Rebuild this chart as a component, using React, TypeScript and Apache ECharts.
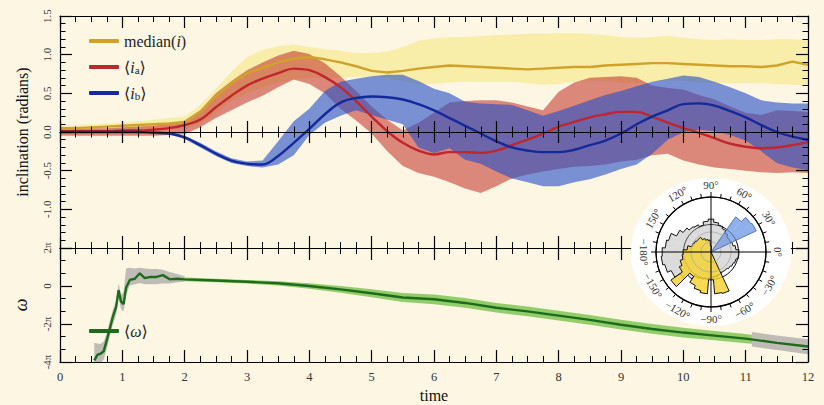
import React, { useEffect, useRef } from "react";
import * as echarts from "echarts";

const FONT = '"Liberation Serif", "DejaVu Serif", serif';

// ---------- top panel: inclination ----------
const T = [0, 0.25, 0.5, 0.75, 1, 1.25, 1.5, 1.75, 2, 2.25, 2.5, 2.75, 3, 3.25, 3.5, 3.75, 4, 4.25, 4.5, 4.75, 5, 5.25, 5.5, 5.75, 6, 6.25, 6.5, 6.75, 7, 7.25, 7.5, 7.75, 8, 8.25, 8.5, 8.75, 9, 9.25, 9.5, 9.75, 10, 10.25, 10.5, 10.75, 11, 11.25, 11.5, 11.75, 12];

const medianI = [0.05, 0.05, 0.06, 0.07, 0.08, 0.09, 0.10, 0.11, 0.13, 0.26, 0.46, 0.63, 0.76, 0.83, 0.90, 0.95, 0.97, 0.94, 0.90, 0.85, 0.79, 0.77, 0.79, 0.82, 0.84, 0.86, 0.85, 0.84, 0.83, 0.82, 0.81, 0.82, 0.83, 0.84, 0.84, 0.86, 0.87, 0.88, 0.89, 0.89, 0.88, 0.87, 0.86, 0.85, 0.85, 0.84, 0.86, 0.91, 0.87];
const medianHi = [0.08, 0.09, 0.10, 0.11, 0.12, 0.14, 0.16, 0.18, 0.20, 0.35, 0.56, 0.78, 0.97, 1.06, 1.11, 1.13, 1.10, 1.07, 1.05, 1.02, 1.02, 1.04, 1.10, 1.18, 1.21, 1.23, 1.23, 1.24, 1.25, 1.26, 1.27, 1.27, 1.28, 1.28, 1.27, 1.25, 1.23, 1.22, 1.23, 1.24, 1.22, 1.20, 1.19, 1.20, 1.19, 1.19, 1.20, 1.20, 1.19];
const medianLo = [0.00, 0.00, 0.01, 0.01, 0.02, 0.02, 0.03, 0.03, 0.04, 0.10, 0.25, 0.40, 0.50, 0.58, 0.64, 0.68, 0.70, 0.70, 0.70, 0.71, 0.72, 0.70, 0.66, 0.62, 0.62, 0.64, 0.65, 0.65, 0.65, 0.65, 0.63, 0.61, 0.62, 0.65, 0.67, 0.66, 0.64, 0.63, 0.65, 0.67, 0.66, 0.64, 0.63, 0.63, 0.63, 0.63, 0.62, 0.61, 0.61];

const iaMean = [0.01, 0.01, 0.01, 0.01, 0.02, 0.02, 0.03, 0.05, 0.09, 0.16, 0.32, 0.47, 0.60, 0.69, 0.76, 0.82, 0.80, 0.71, 0.58, 0.40, 0.20, 0.01, -0.14, -0.24, -0.29, -0.26, -0.26, -0.27, -0.24, -0.17, -0.10, -0.02, 0.07, 0.13, 0.19, 0.23, 0.26, 0.26, 0.20, 0.12, 0.05, -0.01, -0.08, -0.15, -0.19, -0.21, -0.20, -0.17, -0.13];
const iaHi = [0.04, 0.04, 0.05, 0.05, 0.06, 0.07, 0.08, 0.11, 0.15, 0.28, 0.50, 0.66, 0.80, 0.90, 0.99, 1.05, 1.01, 0.89, 0.72, 0.53, 0.33, 0.16, 0.02, 0.12, 0.25, 0.38, 0.40, 0.41, 0.41, 0.38, 0.33, 0.28, 0.52, 0.64, 0.70, 0.71, 0.72, 0.70, 0.60, 0.57, 0.55, 0.48, 0.42, 0.33, 0.25, 0.22, 0.28, 0.27, 0.26];
const iaLo = [-0.05, -0.05, -0.05, -0.05, -0.05, -0.05, -0.05, -0.04, -0.03, 0.06, 0.18, 0.28, 0.38, 0.47, 0.58, 0.68, 0.62, 0.50, 0.30, 0.15, -0.02, -0.25, -0.44, -0.53, -0.58, -0.65, -0.73, -0.79, -0.70, -0.60, -0.55, -0.51, -0.48, -0.45, -0.44, -0.42, -0.38, -0.36, -0.30, -0.28, -0.37, -0.42, -0.46, -0.48, -0.50, -0.52, -0.53, -0.52, -0.53];

const ibMean = [0, 0, 0, 0, 0, 0, -0.01, -0.02, -0.07, -0.17, -0.28, -0.37, -0.41, -0.42, -0.31, -0.14, 0.04, 0.23, 0.38, 0.44, 0.46, 0.45, 0.42, 0.36, 0.28, 0.18, 0.08, -0.02, -0.12, -0.20, -0.24, -0.26, -0.26, -0.23, -0.17, -0.11, -0.02, 0.10, 0.20, 0.28, 0.36, 0.37, 0.34, 0.27, 0.19, 0.09, 0.00, -0.06, -0.10];
const ibHi = [0.01, 0.01, 0.01, 0.01, 0.01, 0.01, 0.01, 0.0, -0.05, -0.14, -0.25, -0.34, -0.38, -0.37, -0.12, 0.14, 0.30, 0.53, 0.65, 0.69, 0.72, 0.74, 0.74, 0.66, 0.56, 0.50, 0.39, 0.37, 0.36, 0.35, 0.28, 0.21, 0.27, 0.34, 0.41, 0.48, 0.53, 0.59, 0.65, 0.69, 0.73, 0.71, 0.65, 0.58, 0.50, 0.41, 0.38, 0.37, 0.37];
const ibLo = [-0.01, -0.01, -0.01, -0.01, -0.01, -0.01, -0.02, -0.03, -0.09, -0.20, -0.31, -0.40, -0.44, -0.46, -0.42, -0.30, -0.04, 0.12, 0.21, 0.28, 0.22, 0.16, 0.10, -0.20, -0.27, -0.21, -0.36, -0.41, -0.51, -0.60, -0.65, -0.70, -0.70, -0.65, -0.61, -0.55, -0.48, -0.42, -0.28, -0.10, 0.00, 0.03, 0.01, -0.04, -0.11, -0.25, -0.40, -0.46, -0.49];

// ---------- bottom panel: omega (radians) ----------
const omegaT = [0.55, 0.6, 0.65, 0.7, 0.75, 0.8, 0.85, 0.9, 0.94, 0.98, 1.02, 1.06, 1.12, 1.2, 1.28, 1.36, 1.45, 1.55, 1.65, 1.76, 1.88, 2.0, 2.5, 3.0, 3.5, 4.0, 4.5, 5.0, 5.5, 6.0, 6.5, 7.0, 7.5, 8.0, 8.5, 9.0, 9.5, 10.0, 10.5, 11.0, 11.5, 12.0];
const omegaMean = [-12.3, -11.4, -11.2, -10.8, -9.0, -7.0, -5.0, -3.5, -0.7, -2.6, -3.0, -0.3, 1.0, 1.2, 2.1, 1.3, 1.5, 1.5, 1.8, 1.1, 1.2, 1.1, 0.9, 0.7, 0.45, 0.0, -0.55, -1.2, -1.9, -2.2, -2.8, -3.6, -4.2, -4.9, -5.6, -6.4, -7.1, -7.7, -8.2, -8.7, -9.4, -10.0];

const omegaGrayEarlyT = [0.55, 0.6, 0.65, 0.7, 0.75, 0.8, 0.85, 0.9, 0.94, 0.98, 1.02, 1.06, 1.12, 1.2, 1.28, 1.36, 1.45, 1.55, 1.65, 1.76, 1.88, 2.0];
const omegaGrayEarlyLo = [-12.8, -12.8, -12.8, -12.2, -10.4, -8.3, -6.3, -4.8, -2.0, -3.8, -4.2, -1.5, 0.1, 0.3, 0.5, 0.3, 0.3, 0.3, 0.4, 0.4, 0.6, 0.7];
const omegaGrayEarlyHi = [-9.4, -9.5, -9.6, -9.2, -7.8, -5.8, -3.9, -2.4, 0.4, -1.5, -1.0, 2.9, 3.0, 2.9, 3.0, 2.9, 2.8, 2.8, 2.7, 2.3, 2.0, 1.6];

const omegaGreenT = [2.0, 2.5, 3.0, 3.5, 4.0, 4.5, 5.0, 5.5, 6.0, 6.5, 7.0, 7.5, 8.0, 8.5, 9.0, 9.5, 10.0, 10.5, 11.0, 11.1];
const omegaGreenLo = [0.8, 0.6, 0.4, 0.1, -0.45, -1.1, -1.85, -2.65, -3.0, -3.6, -4.4, -5.0, -5.7, -6.4, -7.2, -7.9, -8.5, -8.95, -9.45, -9.55];
const omegaGreenHi = [1.4, 1.2, 1.0, 0.8, 0.45, 0.0, -0.55, -1.15, -1.4, -2.0, -2.8, -3.4, -4.1, -4.8, -5.6, -6.3, -6.9, -7.45, -7.95, -8.05];

const omegaGrayLateT = [11.1, 11.5, 12.0];
const omegaGrayLateLo = [-10.0, -10.6, -11.3];
const omegaGrayLateHi = [-7.6, -8.2, -8.8];

// ---------- polar inset: histogram radii per 10° bin ----------
const polarBins = [-180, -170, -160, -150, -140, -130, -120, -110, -100, -90, -80, -70, -60, -50, -40, -30, -20, -10, 0, 10, 20, 30, 40, 50, 60, 70, 80, 90, 100, 110, 120, 130, 140, 150, 160, 170];
const grayHist = [49, 50, 48, 44, 38, 33, 29, 28, 27, 26, 25, 24, 23, 23, 24, 25, 26, 28, 28, 25, 23, 22, 22, 24, 26, 28, 30, 33, 31, 28, 30, 31, 34, 38, 44, 46];
const yellowHist = [28, 29, 32, 35, 49, 30, 37, 40, 42, 28, 42, 43, 0, 0, 0, 0, 0, 0, 0, 0, 0, 0, 0, 0, 0, 0, 0, 6, 12, 13, 15, 18, 18, 19, 20, 24];
const blueHist = [0, 0, 0, 0, 0, 0, 0, 0, 0, 0, 0, 0, 0, 0, 0, 0, 0, 0, 0, 0, 0, 50, 49, 43, 0, 0, 0, 0, 0, 0, 0, 0, 0, 0, 0, 0];
const angleLabels = [-180, -150, -120, -90, -60, -30, 0, 30, 60, 90, 120, 150];

const POLAR_CENTER = [711, 252];
const POLAR_R = 55;
const LABEL_R = 67;
const BIN_W = 10;

function bandSeries(key: string, xs: number[], lo: number[], hi: number[], color: string, xAxisIndex: number, yAxisIndex: number) {
  return {
    type: "custom", name: key, xAxisIndex, yAxisIndex, silent: true, clip: true, z: 2,
    data: xs.map((x, i) => [x, lo[i], hi[i]]),
    encode: { x: 0, y: [1, 2] },
    renderItem: (params: any, api: any) => {
      if (params.dataIndex !== 0) return null;
      const up = xs.map((x, i) => api.coord([x, hi[i]]));
      const dn = xs.map((x, i) => api.coord([x, lo[i]])).reverse();
      return { type: "polygon", shape: { points: up.concat(dn) }, style: { fill: color } };
    },
  };
}

function lineSeries(name: string, xs: number[], ys: number[], color: string, xAxisIndex: number, yAxisIndex: number, smooth: boolean | number) {
  return {
    type: "line", name, data: xs.map((x, i) => [x, ys[i]]), symbol: "none", smooth,
    lineStyle: { color, width: 2.4 }, itemStyle: { color }, xAxisIndex, yAxisIndex,
    silent: true, emphasis: { disabled: true }, z: 2,
  };
}

function outline(radii: number[]) {
  const pts: number[][] = [];
  polarBins.forEach((c, i) => {
    pts.push([radii[i], c - BIN_W / 2]);
    pts.push([radii[i], c + BIN_W / 2]);
  });
  pts.push(pts[0]);
  return pts;
}

function xAx(gridIndex: number, position: string, onZero: boolean, inside: boolean, len: number, minorLen: number, labels: boolean) {
  const ax: any = {
    type: "value", gridIndex, position, min: 0, max: 12, interval: 1, z: 3,
    axisLine: { show: true, onZero, lineStyle: { color: "#000", width: 1.2 } },
    axisTick: { show: true, inside, length: len, lineStyle: { color: "#000", width: 1.2 } },
    minorTick: { show: true, splitNumber: 4, length: minorLen, lineStyle: { color: "#000", width: 1 } },
    splitLine: { show: false },
    axisLabel: { show: labels, fontSize: 12.5, fontFamily: FONT, color: "#333", margin: 8 },
  };
  if (onZero) ax.axisLine.onZeroAxisIndex = 0;
  return ax;
}

function yAx(gridIndex: number, position: string, min: number, max: number, interval: number, minorSplit: number, labels: boolean, formatter?: (v: number) => string) {
  return {
    type: "value", gridIndex, position, min, max, interval, z: 3,
    axisLine: { show: true, onZero: false, lineStyle: { color: "#000", width: 1.2 } },
    axisTick: { show: true, inside: true, length: 12, lineStyle: { color: "#000", width: 1.2 } },
    minorTick: { show: true, splitNumber: minorSplit, length: 5.5, lineStyle: { color: "#000", width: 1 } },
    splitLine: { show: false },
    axisLabel: { show: labels, rotate: 90, margin: 8, fontSize: 11, fontFamily: FONT, color: "#333", formatter },
  } as any;
}

const legendRich = {
  it: { fontStyle: "italic", fontFamily: FONT, fontSize: 16, color: "#222" },
  sub: { fontFamily: FONT, fontSize: 11, color: "#222", verticalAlign: "bottom" },
};

export default function App() {
  const ref = useRef<HTMLDivElement>(null);
  useEffect(() => {
    if (!ref.current) return;
    const chart = echarts.init(ref.current, null, { renderer: "svg" });

    const yTop = yAx(0, "left", -1.5, 1.5, 0.5, 5, true, (v: number) => (v === -1.5 ? "" : v.toFixed(1)));
    yTop.name = "inclination (radians)";
    yTop.nameLocation = "middle";
    yTop.nameRotate = 90;
    yTop.nameGap = 30;
    yTop.nameTextStyle = { fontSize: 16, fontFamily: FONT, color: "#111" };

    const yBot = yAx(1, "left", -4 * Math.PI, 2 * Math.PI, 2 * Math.PI, 3, true, (v: number) => {
      const k = Math.round(v / Math.PI);
      return k === 0 ? "0" : `${k}π`;
    });
    yBot.name = "ω";
    yBot.nameLocation = "middle";
    yBot.nameRotate = 90;
    yBot.nameGap = 30;
    yBot.nameTextStyle = { fontSize: 18, fontStyle: "italic", fontFamily: FONT, color: "#111" };

    const xTime = xAx(1, "bottom", false, true, 12, 6, true);
    xTime.name = "time";
    xTime.nameLocation = "middle";
    xTime.nameGap = 25;
    xTime.nameTextStyle = { fontSize: 16, fontFamily: FONT, color: "#111" };

    const series: any[] = [
      bandSeries("med", T, medianLo, medianHi, "rgba(240,225,80,0.38)", 1, 0),
      lineSeries("median", T, medianI, "#d1a22a", 1, 0, false),
      bandSeries("iaBand", T, iaLo, iaHi, "rgba(195,55,45,0.58)", 1, 0),
      lineSeries("ia", T, iaMean, "#c0262d", 1, 0, 0.4),
      bandSeries("ibBand", T, ibLo, ibHi, "rgba(40,80,200,0.62)", 1, 0),
      lineSeries("ib", T, ibMean, "#14299a", 1, 0, 0.4),
      bandSeries("omg1", omegaGrayEarlyT, omegaGrayEarlyLo, omegaGrayEarlyHi, "rgba(150,150,150,0.6)", 5, 2),
      bandSeries("omgG", omegaGreenT, omegaGreenLo, omegaGreenHi, "rgba(120,195,75,0.8)", 5, 2),
      bandSeries("omg2", omegaGrayLateT, omegaGrayLateLo, omegaGrayLateHi, "rgba(150,150,150,0.6)", 5, 2),
      lineSeries("omega", omegaT, omegaMean, "#1d6b1d", 5, 2, false),
    ];

    const polarBar = (data: number[], color: string, z: number) => ({
      type: "bar", coordinateSystem: "polar", polarIndex: 0, data,
      barCategoryGap: "0%", barGap: "-100%", itemStyle: { color }, silent: true, z,
      emphasis: { disabled: true },
    });
    const polarLine = (data: number[][], color: string, width: number, z: number) => ({
      type: "line", coordinateSystem: "polar", polarIndex: 1, data, symbol: "none",
      lineStyle: { color, width }, silent: true, z, emphasis: { disabled: true }, clip: false,
    });

    series.push(polarBar(grayHist, "rgba(170,170,170,0.42)", 6));
    const grayOutlineIndex = series.length;
    series.push(polarLine(outline(grayHist), "#111", 1, 7));
    series.push(polarBar(yellowHist, "rgba(245,210,40,0.82)", 8));
    series.push(polarLine(outline(yellowHist), "#111", 1, 9));
    series.push(polarBar(blueHist, "rgba(100,145,225,0.72)", 10));
    series.push(polarLine(outline(blueHist), "#3d5fa8", 0.8, 10));

    const option: any = {
      backgroundColor: "#fdf6e3",
      animation: false,
      textStyle: { fontFamily: FONT },
      grid: [
        { left: 60, top: 16, width: 748, height: 232 },
        { left: 60, top: 248, width: 748, height: 114 },
      ],
      xAxis: [
        xAx(0, "top", false, true, 12, 6, false),
        xAx(0, "bottom", false, true, 12, 6, false),
        xAx(0, "bottom", true, true, 11, 5.5, false),
        xAx(0, "bottom", true, false, 11, 5.5, false),
        xAx(1, "top", false, true, 12, 6, false),
        xTime,
      ],
      yAxis: [
        yTop,
        yAx(0, "right", -1.5, 1.5, 0.5, 5, false),
        yBot,
        yAx(1, "right", -4 * Math.PI, 2 * Math.PI, 2 * Math.PI, 3, false),
      ],
      polar: [
        { center: POLAR_CENTER, radius: POLAR_R },
        { center: POLAR_CENTER, radius: POLAR_R },
      ],
      angleAxis: [
        {
          polarIndex: 0, type: "category", data: polarBins.map(String), startAngle: 180 - BIN_W / 2, clockwise: false,
          axisLine: { show: false }, axisTick: { show: false }, axisLabel: { show: false }, splitLine: { show: false }, z: 11,
        },
        {
          polarIndex: 1, type: "value", min: -180, max: 180, interval: 90, startAngle: 180, clockwise: false,
          axisLine: { show: true, lineStyle: { color: "#000", width: 1.2 } },
          axisTick: { show: true, length: 5, lineStyle: { color: "#000", width: 1 } },
          minorTick: { show: true, splitNumber: 9, length: 4, lineStyle: { color: "#000", width: 1 } },
          splitLine: { show: true, lineStyle: { color: "#000", width: 1 } },
          axisLabel: { show: false }, z: 11,
        },
      ],
      radiusAxis: [
        {
          polarIndex: 0, type: "value", min: 0, max: POLAR_R, interval: 10,
          axisLine: { show: false }, axisTick: { show: false }, axisLabel: { show: false },
          splitLine: { show: true, lineStyle: { color: ["rgba(0,0,0,0)", "#a8a8a8", "#a8a8a8", "rgba(0,0,0,0)", "rgba(0,0,0,0)", "rgba(0,0,0,0)", "rgba(0,0,0,0)"], width: 0.8 } },
          z: 11,
        },
        {
          polarIndex: 1, type: "value", min: 0, max: POLAR_R, interval: POLAR_R / 2,
          axisLine: { show: false }, axisTick: { show: false }, axisLabel: { show: false },
          splitLine: { show: true, lineStyle: { color: "#000", width: 1 } },
          z: 5,
        },
      ],
      legend: [
        {
          data: ["median", "ia", "ib"], orient: "vertical", left: 84, top: 28, itemWidth: 30, itemHeight: 4,
          itemGap: 10, icon: "roundRect", selectedMode: false,
          formatter: (n: string) => (n === "median" ? "median({it|i})" : n === "ia" ? "⟨{it|i}{sub|a}⟩" : "⟨{it|i}{sub|b}⟩"),
          textStyle: { fontFamily: FONT, fontSize: 16, color: "#222", rich: legendRich },
        },
        {
          data: ["omega"], orient: "vertical", left: 84, top: 318, itemWidth: 30, itemHeight: 4,
          icon: "roundRect", selectedMode: false,
          formatter: () => "⟨{it|ω}⟩",
          textStyle: { fontFamily: FONT, fontSize: 16, color: "#222", rich: legendRich },
        },
      ],
      series,
    };
    chart.setOption(option);

    const finder: any = { seriesIndex: grayOutlineIndex };
    const c = chart.convertToPixel(finder, [0, 0]) as number[];
    const elements: any[] = [];
    if (c) {
      elements.push({
        type: "ellipse", silent: true, z: 4,
        shape: { cx: c[0], cy: c[1], rx: 80, ry: 74 },
        style: { fill: "#ffffff" },
      });
      angleLabels.forEach((a) => {
        const p = chart.convertToPixel(finder, [POLAR_R, a]) as number[];
        const k = LABEL_R / POLAR_R;
        const x = c[0] + (p[0] - c[0]) * k;
        const y = c[1] + (p[1] - c[1]) * k;
        const rotDeg = a >= 0 ? a - 90 : a + 90;
        elements.push({
          type: "text", x, y, rotation: (rotDeg * Math.PI) / 180, silent: true, z: 12,
          style: {
            text: (a < 0 ? "−" + Math.abs(a) : String(a)) + "°",
            fill: "#333", fontSize: 11, fontFamily: FONT,
            align: "center", verticalAlign: "middle", textAlign: "center", textVerticalAlign: "middle",
          },
        });
      });
    }
    chart.setOption({ graphic: { elements } });

    return () => chart.dispose();
  }, []);

  return <div ref={ref} style={{ position: "absolute", left: 0, top: 0, width: 824, height: 405 }} />;
}
